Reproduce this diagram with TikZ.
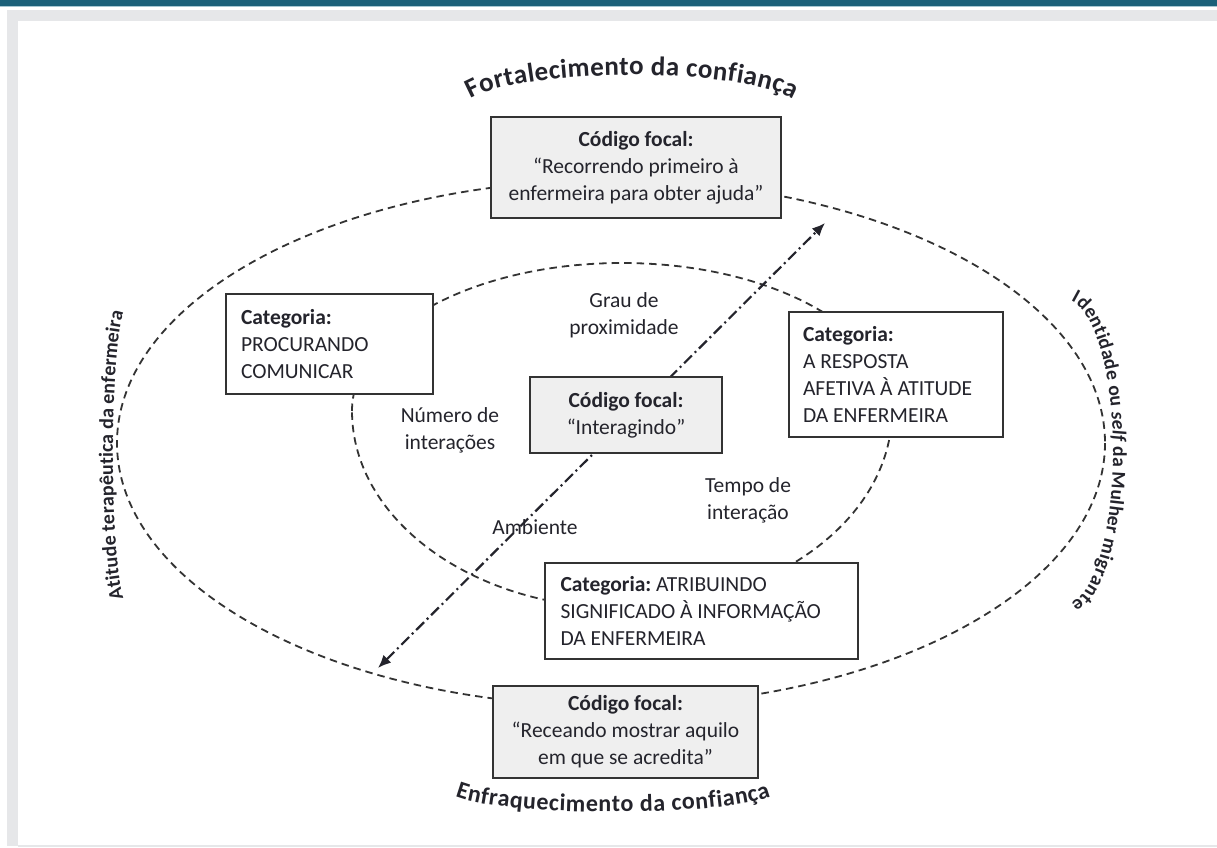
\documentclass[tikz,border=0pt]{standalone}
\usepackage{fontspec}
\setmainfont{Carlito}
\usetikzlibrary{arrows.meta,decorations.text}

\definecolor{barteal}{HTML}{1B6079}
\definecolor{barline}{HTML}{A7C7D2}
\definecolor{framegray}{HTML}{E6E7E9}
\definecolor{ink}{HTML}{24242C}
\definecolor{boxfill}{HTML}{EFEFEF}
\definecolor{edge}{HTML}{333333}

% formats for the arched headings and the side captions
\newcommand\archfmt{\fontsize{27}{27}\selectfont\bfseries\color{ink}}
\newcommand\lowarchfmt{\fontsize{24}{24}\selectfont\bfseries\color{ink}}
\newcommand\leftcapfmt{\fontsize{20}{20}\selectfont\bfseries\color{ink}}
\newcommand\rightcapfmt{\fontsize{19.6}{20}\selectfont\bfseries\color{ink}}

\tikzset{
  boxtext/.style={font=\fontsize{21.5}{27}\selectfont\frenchspacing, text=ink},
  focalbox/.style={draw=edge, line width=2pt, fill=boxfill, align=flush center, boxtext, inner sep=0pt},
  catbox/.style={draw=edge, line width=2pt, fill=white, align=flush left, boxtext, inner sep=0pt},
  dimlabel/.style={align=flush center, boxtext, inner sep=0pt},
  ring/.style={draw=edge, line width=1.8pt, dash pattern=on 7.5pt off 5pt},
  axisline/.style={draw=ink, line width=2.2pt,
    dash pattern=on 11pt off 4pt on 2pt off 4pt,
    {Latex[length=13pt,width=11pt]}-{Latex[length=13pt,width=11pt]}},
}

\begin{document}
\begin{tikzpicture}[x=1pt, y=-1pt]
\useasboundingbox (0,0) rectangle (1217,847);

% page frame
\fill[white] (0,0) rectangle (1217,847);
\fill[barteal] (0,0) rectangle (1217,6);
\fill[barline] (0,6) rectangle (1217,7.3);
\fill[framegray] (7,10) rectangle (1217,21);
\fill[framegray] (7,10) rectangle (18,846);
\fill[framegray] (18,845) rectangle (1217,846.5);

% outer and inner dashed rings
\draw[ring] (611,443) ellipse [x radius=494, y radius=263];
\draw[ring] (352,411) arc[start angle=180, end angle=360, x radius=270, y radius=148]
                      arc[start angle=0, end angle=180, x radius=270, y radius=197] -- cycle;

% confidence axis
\coordinate (axisS) at (378,668);
\coordinate (axisN) at (825,223);
\draw[axisline] (axisS) -- (axisN);

% focal codes and categories
\node[focalbox, minimum width=290pt, minimum height=101pt] (topfocal) at (636,167.5)
  {\textbf{Código focal:}\\“Recorrendo primeiro à\\enfermeira para obter ajuda”};
\node[catbox, minimum height=100pt, text width=177pt, inner xsep=15pt] (procurando) at (329.5,344)
  {\textbf{Categoria:}\\PROCURANDO\\COMUNICAR};
\node[focalbox, minimum width=192pt, minimum height=76pt] (centre) at (626,415)
  {\textbf{Código focal:}\\“Interagindo”};
\node[catbox, minimum height=125pt, text width=186pt, inner xsep=14pt] (resposta) at (896,374.5)
  {\textbf{Categoria:}\\A RESPOSTA\\AFETIVA À ATITUDE\\DA ENFERMEIRA};
\node[catbox, minimum height=96pt, text width=281pt, inner xsep=16pt] (atribuindo) at (701,611)
  {\textbf{Categoria:} ATRIBUINDO\\SIGNIFICADO À INFORMAÇÃO\\DA ENFERMEIRA};
\node[focalbox, minimum width=265pt, minimum height=92pt] (bottomfocal) at (625.5,732)
  {\textbf{Código focal:}\\“Receando mostrar aquilo\\em que se acredita”};

% interaction dimensions
\node[dimlabel] (grau) at (624,315) {Grau de\\proximidade};
\node[dimlabel] (numero) at (450,430) {Número de\\interações};
\node[dimlabel] (tempo) at (748,500) {Tempo de\\interação};
\node[dimlabel] (ambiente) at (535,527) {Ambiente};

% arched headings
\path[decorate, decoration={text along path, text align={fit to path},
    text={|\archfmt|Fortalecimento da confiança}}]
  (470.3,99.2) arc[start angle=198, end angle=342, x radius=170, y radius=35];
\path[decorate, decoration={text along path, text align={fit to path},
    text={|\lowarchfmt|Enfraquecimento da confiança}}]
  (455.2,796.4) arc[start angle=163, end angle=17, x radius=165, y radius=22];

% side captions
\path[decorate, decoration={text along path, text align={fit to path},
    text={|\leftcapfmt|Atitude terapêutica da enfermeira}}]
  (123.6,598.4) arc[start angle=107, end angle=253, x radius=15, y radius=150];
\path[decorate, decoration={text along path, text align={fit to path},
    text={|\rightcapfmt|Identidade ou |\rightcapfmt\itshape|self|\rightcapfmt\upshape| da Mulher migrante}}]
  (1070.85,301.1) arc[start angle=-83, end angle=83, x radius=48, y radius=152];
\end{tikzpicture}
\end{document}
